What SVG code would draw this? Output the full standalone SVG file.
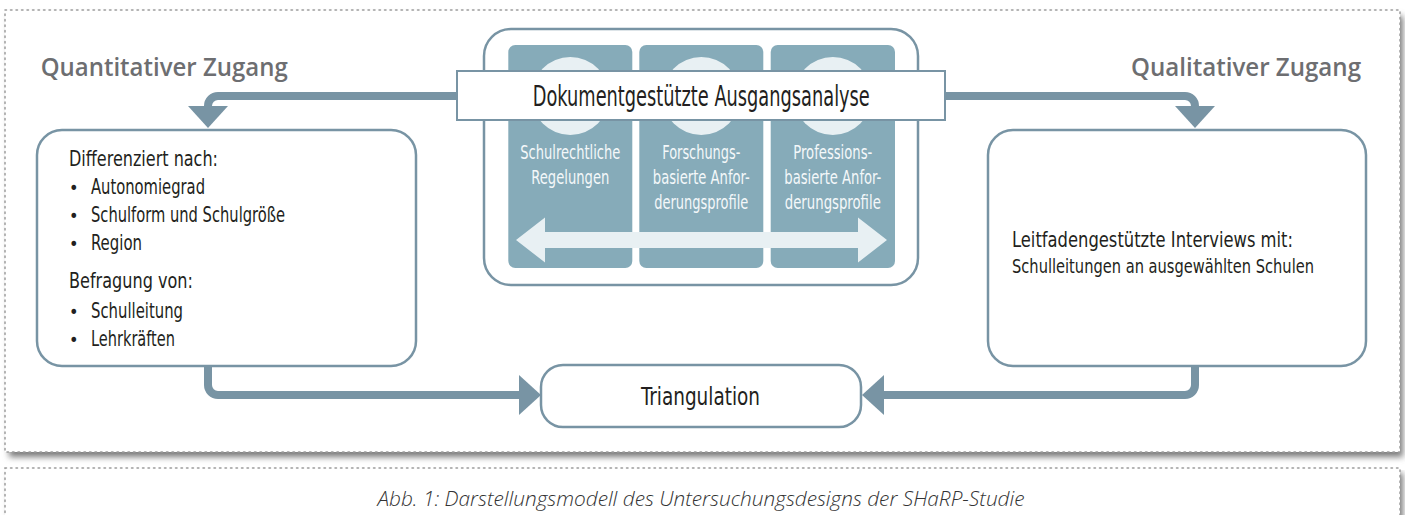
<svg xmlns="http://www.w3.org/2000/svg" width="1405" height="515" viewBox="0 0 1405 515">
<defs>
<style>
.panel{fill:#fff;stroke:#9c9c9c;stroke-width:1.5;stroke-dasharray:1.5 4;stroke-linecap:round}
.box{fill:#fff;stroke:#7894a4;stroke-width:2.5}
.col{fill:#86abb9}
.light{fill:#e8f0f3}
.conn{fill:none;stroke:#7894a4;stroke-width:8;marker-end:url(#ah)}
.hdr{font-family:"Open Sans","Liberation Sans",sans-serif;font-weight:600;font-size:25px;fill:#6d6e71}
.t{font-family:"Liberation Sans Narrow","DejaVu Sans Condensed","Liberation Sans",sans-serif;fill:#231f20}
.ct{font-family:"Liberation Sans Narrow","DejaVu Sans Condensed","Liberation Sans",sans-serif;font-size:20px;fill:#f4f8fa;text-anchor:middle}
.cap{font-family:"Open Sans","Liberation Sans",sans-serif;font-style:italic;font-weight:300;font-size:21px;fill:#333;text-anchor:middle}
</style>
<marker id="ah" markerUnits="userSpaceOnUse" viewBox="0 0 22 40" markerWidth="22" markerHeight="40" refX="1" refY="20" orient="auto">
<path d="M0,0 L22,20 L0,40 Z" fill="#7894a4"/>
</marker>
<filter id="sh" x="-5%" y="-5%" width="110%" height="120%">
<feGaussianBlur stdDeviation="3"/>
</filter>
</defs>

<g id="panels">
<rect x="9" y="16" width="1394" height="441" fill="#7a7a7a" filter="url(#sh)"/>
<rect class="panel" x="5" y="10" width="1395" height="442"/>
<rect x="9" y="473" width="1394" height="60" fill="#7a7a7a" filter="url(#sh)"/>
<rect class="panel" x="5" y="468" width="1395" height="60"/>
</g>

<g id="headers">
<text class="hdr" x="40.7" y="76" textLength="247" lengthAdjust="spacingAndGlyphs">Quantitativer Zugang</text>
<text class="hdr" x="1131" y="76" textLength="230" lengthAdjust="spacingAndGlyphs">Qualitativer Zugang</text>
</g>

<g id="connectors">
<path class="conn" d="M457,96 H218 A10,10 0 0 0 208,106 V107"/>
<path class="conn" d="M945,96 H1185 A10,10 0 0 1 1195,106 V107"/>
<path class="conn" d="M208,366 V385 A10,10 0 0 0 218,395 H520"/>
<path class="conn" d="M1195,366 V385 A10,10 0 0 1 1185,395 H883"/>
</g>

<g id="center">
<rect class="box" x="484" y="29" width="434" height="256" rx="27"/>
<rect class="col" x="508.3" y="45" width="124" height="223" rx="7"/>
<rect class="col" x="639.3" y="45" width="124" height="223" rx="7"/>
<rect class="col" x="770.7" y="45" width="124.3" height="223" rx="7"/>
<circle class="light" cx="570.3" cy="96" r="39"/>
<circle class="light" cx="701.3" cy="96" r="39"/>
<circle class="light" cx="832.8" cy="96" r="39"/>
<polygon class="light" points="516,240 545,217.5 545,232 858,232 858,217.5 887,240 858,262.5 858,248 545,248 545,262.5"/>
<text class="ct"><tspan x="570.3" y="159" textLength="100" lengthAdjust="spacingAndGlyphs">Schulrechtliche</tspan><tspan x="570.3" y="184" textLength="78" lengthAdjust="spacingAndGlyphs">Regelungen</tspan></text>
<text class="ct"><tspan x="701.3" y="159" textLength="78" lengthAdjust="spacingAndGlyphs">Forschungs-</tspan><tspan x="701.3" y="184" textLength="97" lengthAdjust="spacingAndGlyphs">basierte Anfor-</tspan><tspan x="701.3" y="209" textLength="94" lengthAdjust="spacingAndGlyphs">derungsprofile</tspan></text>
<text class="ct"><tspan x="832.8" y="159" textLength="79" lengthAdjust="spacingAndGlyphs">Professions-</tspan><tspan x="832.8" y="184" textLength="97" lengthAdjust="spacingAndGlyphs">basierte Anfor-</tspan><tspan x="832.8" y="209" textLength="96" lengthAdjust="spacingAndGlyphs">derungsprofile</tspan></text>
</g>

<g id="banner">
<rect x="457" y="71" width="488" height="49" fill="#fff" stroke="#7894a4" stroke-width="2"/>
<text class="t" x="701.3" y="106" font-size="28" text-anchor="middle" textLength="337" lengthAdjust="spacingAndGlyphs">Dokumentgestützte Ausgangsanalyse</text>
</g>

<g id="quant">
<rect class="box" x="37" y="130" width="379" height="236" rx="25"/>
<g class="t" font-size="22">
<text x="69" y="166" textLength="149" lengthAdjust="spacingAndGlyphs">Differenziert nach:</text>
<text x="69" y="194" font-size="18">•</text><text x="91" y="194" textLength="114" lengthAdjust="spacingAndGlyphs">Autonomiegrad</text>
<text x="69" y="222" font-size="18">•</text><text x="91" y="222" textLength="194" lengthAdjust="spacingAndGlyphs">Schulform und Schulgröße</text>
<text x="69" y="250" font-size="18">•</text><text x="91" y="250" textLength="51" lengthAdjust="spacingAndGlyphs">Region</text>
<text x="69" y="288" textLength="124" lengthAdjust="spacingAndGlyphs">Befragung von:</text>
<text x="69" y="318" font-size="18">•</text><text x="91" y="318" textLength="92" lengthAdjust="spacingAndGlyphs">Schulleitung</text>
<text x="69" y="346" font-size="18">•</text><text x="91" y="346" textLength="84" lengthAdjust="spacingAndGlyphs">Lehrkräften</text>
</g>
</g>

<g id="qual">
<rect class="box" x="988" y="130" width="378" height="236" rx="25"/>
<text class="t" x="1012" y="247" font-size="22" textLength="281" lengthAdjust="spacingAndGlyphs">Leitfadengestützte Interviews mit:</text>
<text class="t" x="1012" y="273" font-size="20" textLength="302" lengthAdjust="spacingAndGlyphs">Schulleitungen an ausgewählten Schulen</text>
</g>

<g id="triangulation">
<rect class="box" x="541" y="365" width="320" height="62" rx="22"/>
<text class="t" x="700.5" y="405" font-size="25" text-anchor="middle" textLength="119" lengthAdjust="spacingAndGlyphs">Triangulation</text>
</g>

<g id="caption">
<text class="cap" x="701" y="506" textLength="647" lengthAdjust="spacingAndGlyphs">Abb. 1: Darstellungsmodell des Untersuchungsdesigns der SHaRP-Studie</text>
</g>
</svg>
